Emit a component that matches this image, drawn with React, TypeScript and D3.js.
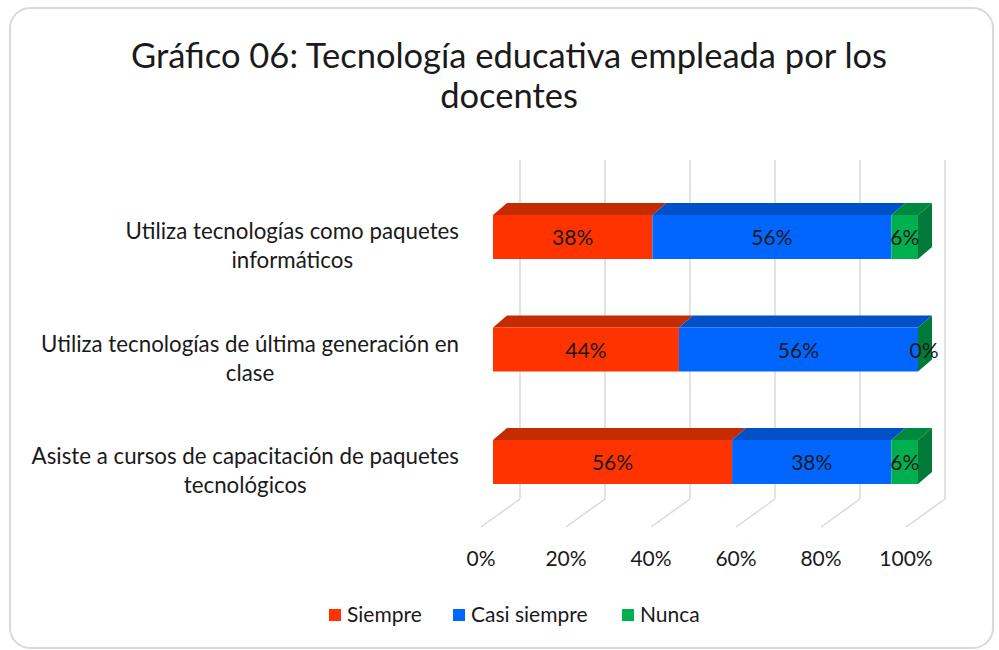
import React, { useEffect, useRef } from 'react';
import * as d3 from 'd3';

const categories = [
  ['Utiliza tecnologías como paquetes', 'informáticos'],
  ['Utiliza tecnologías de última generación en', 'clase'],
  ['Asiste a cursos de capacitación de paquetes', 'tecnológicos'],
];
const seriesNames = ['Siempre', 'Casi siempre', 'Nunca'];
const siempre = [37.5, 43.75, 56.25];
const casiSiempre = [56.25, 56.25, 37.5];
const nunca = [6.25, 0, 6.25];
const tickValues = [0, 20, 40, 60, 80, 100];

const frontColors = ['#FF3300', '#0066FF', '#00B050'];
const topColors = ['#C42B00', '#0050C8', '#00883E'];
const sideColors = ['#A32400', '#0042A8', '#007A38'];

const FONT = 'Lato, "Noto Sans", sans-serif';

const App = () => {
  const svgRef = useRef<SVGSVGElement>(null);

  useEffect(() => {
    const width = 999;
    const height = 650;
    const svg = d3.select(svgRef.current);
    svg.selectAll('*').remove();
    svg.attr('width', width).attr('height', height);

    // frame
    svg.append('rect')
      .attr('x', 10).attr('y', 8)
      .attr('width', 983).attr('height', 640)
      .attr('rx', 20)
      .style('fill', '#fff')
      .style('stroke', '#d9d9d9')
      .style('stroke-width', 2);

    // title
    const title = svg.append('text')
      .attr('text-anchor', 'middle')
      .style('font-family', FONT)
      .style('font-size', '34.5px')
      .style('fill', '#1a1a1a');
    title.append('tspan').attr('x', 509).attr('y', 68).text('Gráfico 06: Tecnología educativa empleada por los');
    title.append('tspan').attr('x', 509).attr('y', 108).text('docentes');

    const x = d3.scaleLinear().domain([0, 100]).range([493, 918]);
    const keys = categories.map((c) => c.join(' '));
    const y = d3.scalePoint().domain(keys).range([237, 462]);
    const barH = 44;
    const bdx = 14, bdy = 12; // bar depth
    const wallDx = 27; // back wall offset
    const floorDx = 12, floorDy = 28; // floor front offset
    const wallTop = 160, wallBottom = 499;

    // gridlines on back wall + floor
    const grid = svg.append('g').style('stroke', '#d9d9d9').style('stroke-width', 1.5).style('fill', 'none');
    tickValues.forEach((v) => {
      const bx = x(v) + wallDx;
      grid.append('line').attr('x1', bx).attr('x2', bx).attr('y1', wallTop).attr('y2', wallBottom);
      grid.append('line').attr('x1', bx).attr('y1', wallBottom).attr('x2', x(v) - floorDx).attr('y2', wallBottom + floorDy);
    });

    // tick labels
    svg.append('g').selectAll('text').data(tickValues).join('text')
      .attr('x', (d) => x(d) - floorDx)
      .attr('y', 566)
      .attr('text-anchor', 'middle')
      .style('font-family', FONT)
      .style('font-size', '21px')
      .style('fill', '#1a1a1a')
      .text((d) => `${d}%`);

    // bars
    const stacked = d3.stack<number>()
      .keys(['0', '1', '2'])
      .value((i, k) => [siempre, casiSiempre, nunca][+k][i])(d3.range(keys.length));

    keys.forEach((key, i) => {
      const g = svg.append('g');
      const y0 = (y(key) as number) - barH / 2;
      const y1 = y0 + barH;
      stacked.forEach((layer, s) => {
        const [a, b] = layer[i];
        const x1 = x(a), x2 = x(b);
        g.append('path')
          .attr('d', `M${x1},${y0}L${x2},${y0}L${x2 + bdx},${y0 - bdy}L${x1 + bdx},${y0 - bdy}Z`)
          .style('fill', topColors[s]);
        if (b - a > 0) {
          g.append('rect')
            .attr('x', x1).attr('y', y0)
            .attr('width', x2 - x1).attr('height', barH)
            .style('fill', frontColors[s]);
        }
      });
      const xe = x(100);
      g.append('path')
        .attr('d', `M${xe},${y0}L${xe + bdx},${y0 - bdy}L${xe + bdx},${y1 - bdy}L${xe},${y1}Z`)
        .style('fill', sideColors[2]);
      stacked.forEach((layer, s) => {
        const [a, b] = layer[i];
        g.append('text')
          .attr('x', (x(a) + x(b)) / 2 + (b - a === 0 ? 6 : 0))
          .attr('y', y0 + barH / 2 + 8)
          .attr('text-anchor', 'middle')
          .style('font-family', FONT)
          .style('font-size', '21px')
          .style('fill', '#1a1a1a')
          .text(`${Math.round(b - a)}%`);
      });

      // category label
      const t = svg.append('text')
        .attr('text-anchor', 'middle')
        .style('font-family', FONT)
        .style('font-size', '22.3px')
        .style('fill', '#1a1a1a');
      const cy = y(key) as number;
      const lines = categories[i];
      t.append('tspan').attr('y', cy + 2).text(lines[0]);
      t.append('tspan').attr('y', cy + 31).text(lines[1]);
      // right align first line at 459, center second under it
      const node = t.node() as SVGTextElement;
      const first = node.childNodes[0] as SVGTSpanElement;
      const w = first.getComputedTextLength();
      const cx = 459 - w / 2;
      t.selectAll('tspan').attr('x', cx);
    });

    // legend
    const legendX = [329, 453, 622];
    const legend = svg.append('g');
    seriesNames.forEach((name, s) => {
      legend.append('rect')
        .attr('x', legendX[s]).attr('y', 609)
        .attr('width', 12).attr('height', 12)
        .style('fill', frontColors[s]);
      legend.append('text')
        .attr('x', legendX[s] + 18).attr('y', 622)
        .style('font-family', FONT)
        .style('font-size', '21px')
        .style('fill', '#1a1a1a')
        .text(name);
    });
  }, []);

  return (
    <svg ref={svgRef} style={{ position: 'absolute', left: 0, top: 0, display: 'block' }}></svg>
  );
};

export default App;
